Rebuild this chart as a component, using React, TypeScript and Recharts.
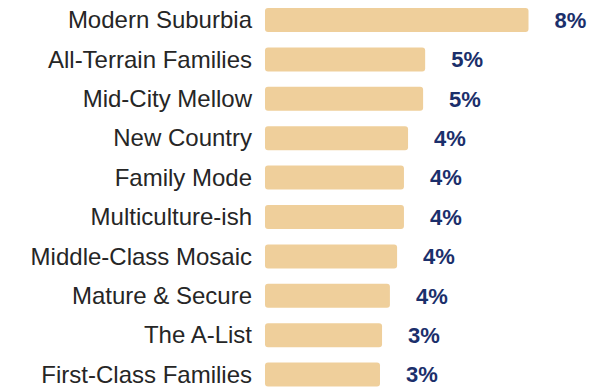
import React from 'react';
import { BarChart, Bar, XAxis, YAxis, LabelList } from 'recharts';

const segments = [
  'Modern Suburbia',
  'All-Terrain Families',
  'Mid-City Mellow',
  'New Country',
  'Family Mode',
  'Multiculture-ish',
  'Middle-Class Mosaic',
  'Mature & Secure',
  'The A-List',
  'First-Class Families',
];

const shares = [7.7, 4.68, 4.62, 4.18, 4.06, 4.06, 3.86, 3.65, 3.42, 3.36];

const data = segments.map((name, i) => ({ name, value: shares[i] }));

const CategoryTick = (props: any) => {
  const { x, y, payload } = props;
  return (
    <text
      x={x}
      y={y}
      textAnchor="end"
      dominantBaseline="central"
      fill="#262626"
      fontSize={24}
      fontFamily="'Liberation Sans', Arial, sans-serif"
    >
      {payload.value}
    </text>
  );
};

export default function App() {
  return (
    <div
      style={{
        position: 'fixed',
        top: 0,
        left: 0,
        width: 616,
        height: 387,
        overflow: 'hidden',
        background: '#fff',
      }}
    >
      <BarChart
        width={616}
        height={394}
        data={data}
        layout="vertical"
        margin={{ top: 0, right: 43, bottom: 0, left: 0 }}
        barCategoryGap={15}
      >
        <XAxis type="number" domain={[0, 9]} hide />
        <YAxis
          type="category"
          dataKey="name"
          width={265}
          axisLine={false}
          tickLine={false}
          tickMargin={0}
          tickSize={13}
          tick={<CategoryTick />}
          interval={0}
        />
        <Bar dataKey="value" fill="#efcf9b" barSize={24} radius={3} isAnimationActive={false}>
          <LabelList
            dataKey="value"
            position="right"
            offset={26}
            formatter={(v: any) => `${Math.round(Number(v))}%`}
            fill="#1b2f6b"
            fontSize={22}
            fontWeight="bold"
            fontFamily="'Liberation Sans', Arial, sans-serif"
          />
        </Bar>
      </BarChart>
    </div>
  );
}
